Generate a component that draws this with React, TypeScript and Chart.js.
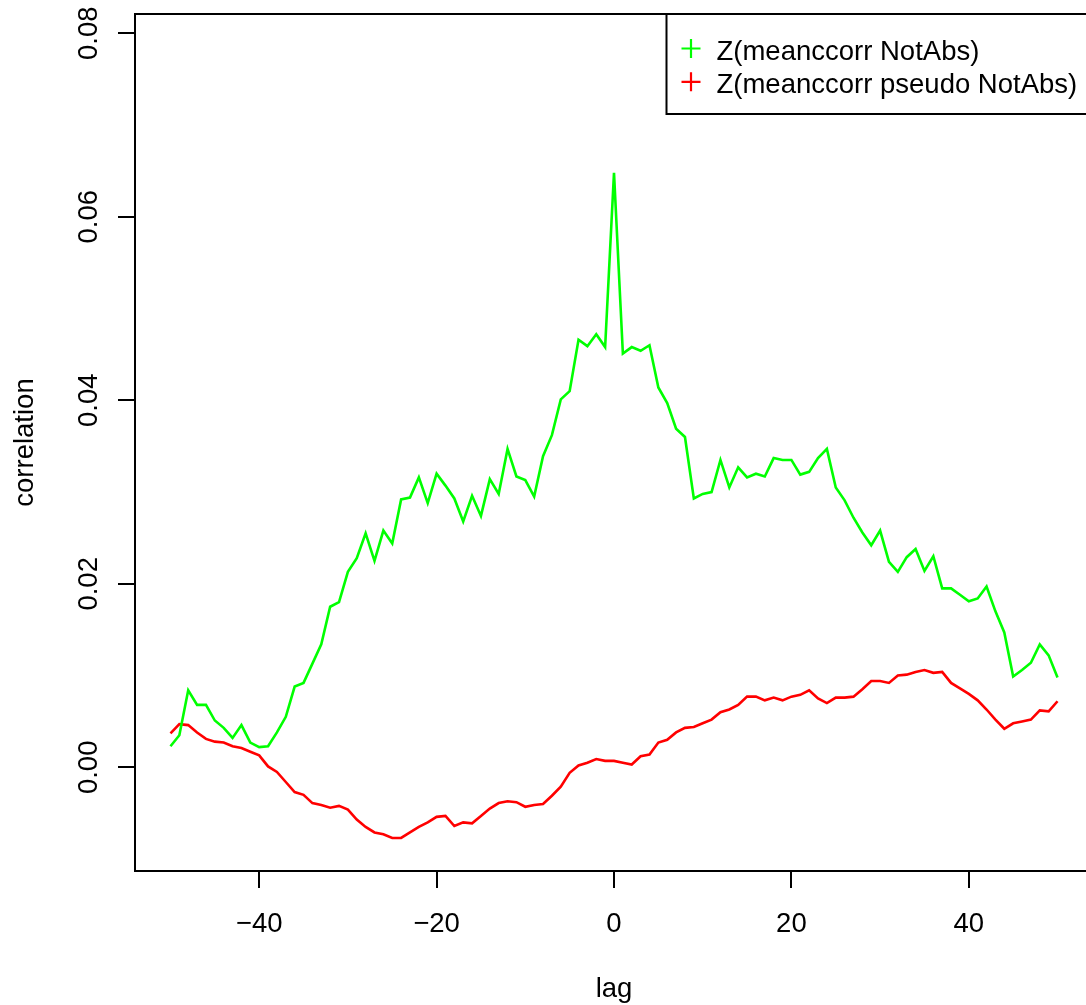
import React, { useEffect, useRef } from "react";
import { Chart, registerables } from "chart.js";

Chart.register(...registerables);

// lag values (x categories)
const lags = [
  -50, -49, -48, -47, -46, -45, -44, -43, -42, -41,
  -40, -39, -38, -37, -36, -35, -34, -33, -32, -31,
  -30, -29, -28, -27, -26, -25, -24, -23, -22, -21,
  -20, -19, -18, -17, -16, -15, -14, -13, -12, -11,
  -10, -9, -8, -7, -6, -5, -4, -3, -2, -1,
  0, 1, 2, 3, 4, 5, 6, 7, 8, 9,
  10, 11, 12, 13, 14, 15, 16, 17, 18, 19,
  20, 21, 22, 23, 24, 25, 26, 27, 28, 29,
  30, 31, 32, 33, 34, 35, 36, 37, 38, 39,
  40, 41, 42, 43, 44, 45, 46, 47, 48, 49,
  50,
];

// Z(meanccorr NotAbs)
const meanccorr = [
  0.0023, 0.0035, 0.0084, 0.0068, 0.0068, 0.0051, 0.0043, 0.0032, 0.0046, 0.0027,
  0.0022, 0.0023, 0.0038, 0.0055, 0.0088, 0.0092, 0.0113, 0.0134, 0.0175, 0.0180,
  0.0213, 0.0228, 0.0255, 0.0225, 0.0258, 0.0244, 0.0292, 0.0294, 0.0316, 0.0288,
  0.0320, 0.0307, 0.0293, 0.0268, 0.0296, 0.0274, 0.0314, 0.0298, 0.0347, 0.0317,
  0.0313, 0.0295, 0.0339, 0.0362, 0.0401, 0.0410, 0.0466, 0.0459, 0.0472, 0.0458,
  0.0648, 0.0451, 0.0458, 0.0454, 0.0460, 0.0414, 0.0397, 0.0369, 0.0360, 0.0293,
  0.0298, 0.0300, 0.0335, 0.0305, 0.0327, 0.0316, 0.0320, 0.0317, 0.0337, 0.0335,
  0.0335, 0.0319, 0.0322, 0.0337, 0.0347, 0.0305, 0.0291, 0.0272, 0.0256, 0.0242,
  0.0258, 0.0224, 0.0213, 0.0229, 0.0238, 0.0214, 0.0230, 0.0195, 0.0195, 0.0188,
  0.0181, 0.0184, 0.0197, 0.0170, 0.0147, 0.0099, 0.0106, 0.0114, 0.0134, 0.0122,
  0.0098,
];

// Z(meanccorr pseudo NotAbs)
const meanccorrPseudo = [
  0.0037, 0.0047, 0.0046, 0.0038, 0.0031, 0.0028, 0.0027, 0.0023, 0.0021, 0.0017,
  0.0013, 0.0001, -0.0005, -0.0016, -0.0027, -0.0030, -0.0039, -0.0041, -0.0044, -0.0042,
  -0.0046, -0.0057, -0.0065, -0.0071, -0.0073, -0.0077, -0.0077, -0.0071, -0.0065, -0.0060,
  -0.0054, -0.0053, -0.0064, -0.0060, -0.0061, -0.0053, -0.0045, -0.0039, -0.0037, -0.0038,
  -0.0043, -0.0041, -0.0040, -0.0031, -0.0021, -0.0006, 0.0002, 0.0005, 0.0009, 0.0007,
  0.0007, 0.0005, 0.0003, 0.0012, 0.0014, 0.0027, 0.0030, 0.0038, 0.0043, 0.0044,
  0.0048, 0.0052, 0.0060, 0.0063, 0.0068, 0.0077, 0.0077, 0.0073, 0.0076, 0.0073,
  0.0077, 0.0079, 0.0084, 0.0075, 0.0070, 0.0076, 0.0076, 0.0077, 0.0085, 0.0094,
  0.0094, 0.0092, 0.0100, 0.0101, 0.0104, 0.0106, 0.0103, 0.0104, 0.0092, 0.0086,
  0.0080, 0.0073, 0.0063, 0.0052, 0.0042, 0.0048, 0.0050, 0.0052, 0.0062, 0.0061,
  0.0072,
];

const xTicks = [-40, -20, 0, 20, 40];
const yTicks = [0, 0.02, 0.04, 0.06, 0.08];
const seriesLabels = ["Z(meanccorr NotAbs)", "Z(meanccorr pseudo NotAbs)"];
const seriesColors = ["#00ff00", "#ff0000"];
const xTitle = "lag";
const yTitle = "correlation";

const FONT = '27.5px "Liberation Sans", Arial, Helvetica, sans-serif';

const fmtX = (v: number) => (v < 0 ? "\u2212" + Math.abs(v) : String(v));
const fmtY = (v: number) => v.toFixed(2);

const rStylePlugin = {
  id: "rStyle",
  afterDraw(chart: any) {
    const { ctx, chartArea } = chart;
    const xs = chart.scales.x;
    const ys = chart.scales.y;
    ctx.save();
    // plot box
    ctx.strokeStyle = "#000";
    ctx.lineWidth = 2;
    ctx.strokeRect(chartArea.left, chartArea.top, chartArea.right - chartArea.left, chartArea.bottom - chartArea.top);

    ctx.fillStyle = "#000";
    ctx.font = FONT;
    // x tick labels
    ctx.textAlign = "center";
    ctx.textBaseline = "alphabetic";
    xs.ticks.forEach((t: any) => {
      ctx.fillText(fmtX(t.value), xs.getPixelForValue(t.value), 931.5);
    });
    // y tick labels (rotated, like R)
    ys.ticks.forEach((t: any) => {
      ctx.save();
      ctx.translate(97, ys.getPixelForValue(t.value));
      ctx.rotate(-Math.PI / 2);
      ctx.fillText(fmtY(t.value), 0, 0);
      ctx.restore();
    });
    // axis titles
    ctx.fillText(xTitle, (chartArea.left + chartArea.right) / 2, 996.5);
    ctx.save();
    ctx.translate(33, (chartArea.top + chartArea.bottom) / 2);
    ctx.rotate(-Math.PI / 2);
    ctx.fillText(yTitle, 0, 0);
    ctx.restore();

    // legend (top right, R-like)
    const lx = 666.5;
    const ly = chartArea.top;
    ctx.fillStyle = "#fff";
    ctx.fillRect(lx, ly, chartArea.right - lx, 100);
    ctx.strokeStyle = "#000";
    ctx.lineWidth = 2;
    ctx.strokeRect(lx, ly, chartArea.right - lx, 100);
    chart.data.datasets.forEach((ds: any, i: number) => {
      const cy = 48.5 + i * 33.3;
      ctx.strokeStyle = ds.borderColor;
      ctx.lineWidth = 2.2;
      ctx.beginPath();
      ctx.moveTo(691 - 9.5, cy);
      ctx.lineTo(691 + 9.5, cy);
      ctx.moveTo(691, cy - 9.5);
      ctx.lineTo(691, cy + 9.5);
      ctx.stroke();
      ctx.fillStyle = "#000";
      ctx.textAlign = "left";
      ctx.fillText(ds.label, 716.5, cy + 11);
    });
    ctx.restore();
  },
};

export default function App() {
  const canvasRef = useRef<HTMLCanvasElement | null>(null);

  useEffect(() => {
    document.body.style.margin = "0";
    document.body.style.overflow = "hidden";
    const canvas = canvasRef.current;
    if (!canvas) return;
    const chart = new Chart(canvas, {
      type: "line",
      data: {
        datasets: [
          {
            label: seriesLabels[0],
            data: lags.map((l, i) => ({ x: l, y: meanccorr[i] })),
            borderColor: seriesColors[0],
            backgroundColor: seriesColors[0],
            borderWidth: 2.6,
            pointRadius: 0,
            tension: 0,
            fill: false,
          },
          {
            label: seriesLabels[1],
            data: lags.map((l, i) => ({ x: l, y: meanccorrPseudo[i] })),
            borderColor: seriesColors[1],
            backgroundColor: seriesColors[1],
            borderWidth: 2.6,
            pointRadius: 0,
            tension: 0,
            fill: false,
          },
        ],
      },
      options: {
        responsive: false,
        animation: false,
        devicePixelRatio: 1,
        layout: { padding: { left: 0, top: 14, right: 7, bottom: 0 } },
        plugins: { legend: { display: false }, tooltip: { enabled: false } },
        scales: {
          x: {
            type: "linear",
            min: -54,
            max: 54,
            afterBuildTicks: (s: any) => {
              s.ticks = xTicks.map((v) => ({ value: v }));
            },
            afterFit: (s: any) => {
              s.height = 134;
            },
            ticks: { display: false },
            grid: {
              display: true,
              drawOnChartArea: false,
              drawTicks: true,
              tickLength: 17,
              color: "#000",
              lineWidth: 2,
            },
            border: { display: false },
          },
          y: {
            type: "linear",
            min: -0.0113,
            max: 0.0821,
            afterBuildTicks: (s: any) => {
              s.ticks = yTicks.map((v) => ({ value: v }));
            },
            afterFit: (s: any) => {
              s.width = 135;
            },
            ticks: { display: false },
            grid: {
              display: true,
              drawOnChartArea: false,
              drawTicks: true,
              tickLength: 17,
              color: "#000",
              lineWidth: 2,
            },
            border: { display: false },
          },
        },
      },
      plugins: [rStylePlugin],
    } as any);
    return () => chart.destroy();
  }, []);

  return (
    <div
      style={{
        position: "absolute",
        left: 0,
        top: 0,
        width: 1086,
        height: 1005,
        overflow: "hidden",
        background: "#fff",
      }}
    >
      <canvas ref={canvasRef} width={1100} height={1005} style={{ display: "block" }} />
    </div>
  );
}
